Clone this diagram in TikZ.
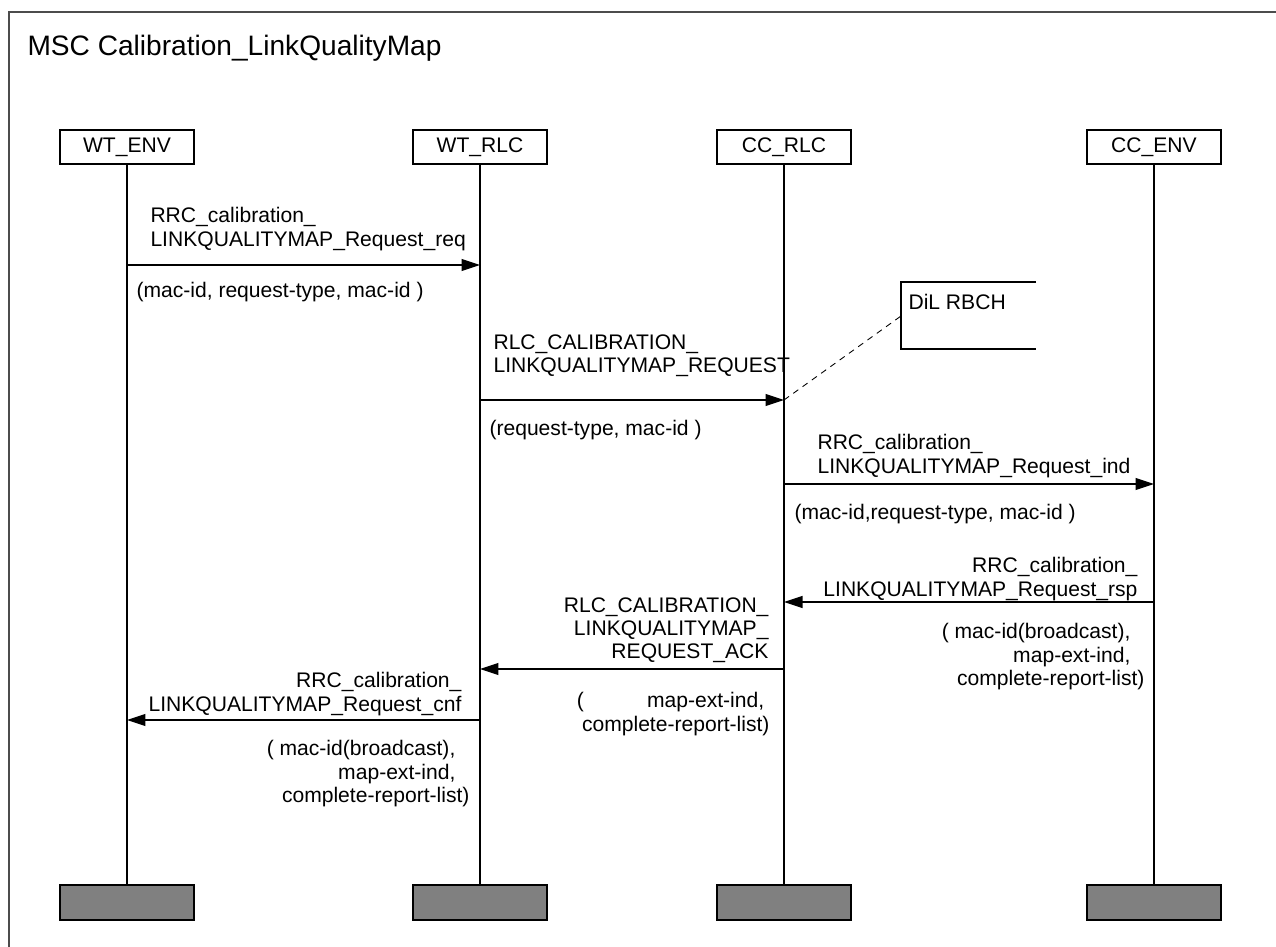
\documentclass[tikz,border=0pt]{standalone}
\usepackage{fontspec}
\setmainfont{Liberation Sans}
\usepackage{tikz}
\usetikzlibrary{arrows.meta}
\usetikzlibrary{positioning}

\newcommand{\tailgap}{\hbox to 8pt{}}

\begin{document}
\begin{tikzpicture}[x=0.02cm, y=-0.02cm, line width=0.6pt,
      every node/.style={font=\fontsize{12}{13.2}\selectfont},
      inst/.style={draw, minimum width=2.68cm, minimum height=0.68cm, inner sep=0pt},
      instend/.style={draw, fill=black!50, minimum width=2.68cm, minimum height=0.7cm, inner sep=0pt},
      msg/.style={-{Triangle[length=0.37cm, width=0.24cm]}},
      lbl/.style={inner sep=0pt, align=left, anchor=north west},
      lblr/.style={inner sep=0pt, align=right, anchor=north east}]
      \useasboundingbox (0, 0) rectangle (1276, 947);
      \draw [black!70] (9, 947) -- (9, 12) -- (1276, 12);
      \node [inner sep=0pt, anchor=base west, font=\fontsize{16}{19}\selectfont] (title) at (27, 55) {MSC Calibration\_LinkQualityMap};

      % instances
      \node [inst] (wtenv) at (127, 147) {WT\_ENV};
      \node [inst] (wtrlc) at (480, 147) {WT\_RLC};
      \node [inst] (ccrlc) at (784, 147) {CC\_RLC};
      \node [inst] (ccenv) at (1154, 147) {CC\_ENV};
      \node [instend] (wtenvend) at (127, 902.5) {};
      \node [instend] (wtrlcend) at (480, 902.5) {};
      \node [instend] (ccrlcend) at (784, 902.5) {};
      \node [instend] (ccenvend) at (1154, 902.5) {};
      \draw (wtenv) -- (wtenvend);
      \draw (wtrlc) -- (wtrlcend);
      \draw (ccrlc) -- (ccrlcend);
      \draw (ccenv) -- (ccenvend);

      % message end points
      \coordinate (m1s) at (wtenv |- 0, 265);
      \coordinate (m1e) at (wtrlc |- 0, 265);
      \coordinate (m2s) at (wtrlc |- 0, 400);
      \coordinate (m2e) at (ccrlc |- 0, 400);
      \coordinate (m3s) at (ccrlc |- 0, 484);
      \coordinate (m3e) at (ccenv |- 0, 484);
      \coordinate (m4s) at (ccenv |- 0, 602);
      \coordinate (m4e) at (ccrlc |- 0, 602);
      \coordinate (m5s) at (ccrlc |- 0, 669);
      \coordinate (m5e) at (wtrlc |- 0, 669);
      \coordinate (m6s) at (wtrlc |- 0, 720);
      \coordinate (m6e) at (wtenv |- 0, 720);

      \draw [msg] (m1s) -- (m1e);
      \node [lbl] (m1name) at (150, 207) {RRC\_calibration\_\\LINKQUALITYMAP\_Request\_req};
      \node [lbl] (m1par) at (136, 282) {(mac-id, request-type, mac-id )};

      \draw [msg] (m2s) -- (m2e);
      \node [lbl] (m2name) at (493, 334) {RLC\_CALIBRATION\_\\LINKQUALITYMAP\_REQUEST};
      \node [lbl] (m2par) at (489, 420) {(request-type, mac-id )};

      \draw [msg] (m3s) -- (m3e);
      \node [lbl] (m3name) at (817, 434) {RRC\_calibration\_\\LINKQUALITYMAP\_Request\_ind};
      \node [lbl] (m3par) at (794, 504) {(mac-id,request-type, mac-id )};

      \draw [msg] (m4s) -- (m4e);
      \node [lblr] (m4name) at (1138, 557) {RRC\_calibration\_\\LINKQUALITYMAP\_Request\_rsp};
      \node [lblr] (m4par) at (1145, 623) {( mac-id(broadcast),\tailgap\\map-ext-ind,\tailgap\\complete-report-list)};

      \draw [msg] (m5s) -- (m5e);
      \node [lblr] (m5name) at (769, 597) {RLC\_CALIBRATION\_\\LINKQUALITYMAP\_\\REQUEST\_ACK};
      \node [lblr] (m5par) at (770, 692) {(\hspace{36pt}map-ext-ind,\hbox to 3pt{}\\complete-report-list)};

      \draw [msg] (m6s) -- (m6e);
      \node [lblr] (m6name) at (462, 672) {RRC\_calibration\_\\LINKQUALITYMAP\_Request\_cnf};
      \node [lblr] (m6par) at (470, 740) {( mac-id(broadcast),\tailgap\\map-ext-ind,\tailgap\\complete-report-list)};

      % comment
      \draw (1036, 282) -- (901, 282) -- (901, 349) -- (1036, 349);
      \node [lbl] (dil) at (908, 294) {DiL RBCH};
      \coordinate (dilleft) at (901, 316);
      \draw [dash pattern=on 3.5pt off 3pt, line width=0.5pt] (m2e) -- (dilleft);
    \end{tikzpicture}
\end{document}
